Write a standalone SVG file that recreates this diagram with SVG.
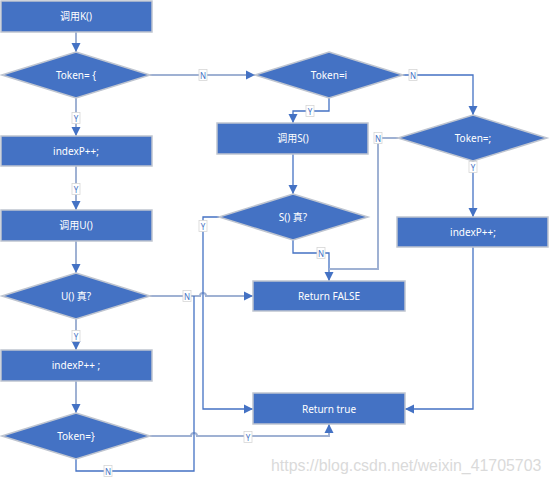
<svg xmlns="http://www.w3.org/2000/svg" width="551" height="484" viewBox="0 0 551 484">
<style>
.n{fill:#4472C4;stroke:#BFC5D0;stroke-width:1.5}
.t{fill:#fff;font-family:"Noto Sans","Noto Sans CJK SC",sans-serif;font-size:10px;text-anchor:middle;dominant-baseline:central}
.c{fill:none;stroke:#9FB1D3;stroke-width:2}
.cb{fill:none;stroke:#4472C4;stroke-width:1.3}
.lb rect{fill:#fff;stroke:#D6D6D6;stroke-width:0.8}
.lb text{fill:#4472C4;font-family:"Noto Sans",sans-serif;font-size:8px;text-anchor:middle;dominant-baseline:central}
.wm{fill:#DADADA;font-family:"Liberation Sans",Arial,sans-serif;font-size:15.9px}
</style>
<defs>
<marker id="ah" markerUnits="userSpaceOnUse" markerWidth="10" markerHeight="10" refX="9" refY="5" orient="auto">
<path d="M0,0.5 L9,5 L0,9.5 Z" fill="#4472C4"/>
</marker>
</defs>
<rect width="551" height="484" fill="#fff"/>
<g id="connectors">
<path class="c" d="M76 32 V52" marker-end="url(#ah)"/>
<path class="c" d="M150 75 H255" marker-end="url(#ah)"/>
<path class="c" d="M76 98 V136" marker-end="url(#ah)"/>
<path class="c" d="M76 166 V210" marker-end="url(#ah)"/>
<path class="c" d="M76 241 V273" marker-end="url(#ah)"/>
<path class="c" d="M150 296 H200 a3 3 0 0 1 6 0 H253" marker-end="url(#ah)"/>
<path class="c" d="M76 319 V350" marker-end="url(#ah)"/>
<path class="c" d="M76 381 V413" marker-end="url(#ah)"/>
<path class="c" d="M150 436 H191 a3 3 0 0 1 6 0 H329 V424" marker-end="url(#ah)"/>
<path class="cb" d="M76 459 V471 H194 V296"/>
<path class="cb" d="M403 75 H473 V115" marker-end="url(#ah)"/>
<path class="cb" d="M329 98 V111 H293 V123" marker-end="url(#ah)"/>
<path class="cb" d="M293 154 V194" marker-end="url(#ah)"/>
<path class="cb" d="M293 240 V253 H329 V281" marker-end="url(#ah)"/>
<path class="cb" d="M219 217 H203 V409 H253" marker-end="url(#ah)"/>
<path class="c" d="M398 138 H378 V269 H329"/>
<path class="cb" d="M473 161 V217" marker-end="url(#ah)"/>
<path class="cb" d="M473 247 V409 H405" marker-end="url(#ah)"/>
<g class="lb">
<rect x="199" y="69.5" width="8" height="11"/><text x="203" y="75">N</text>
<rect x="72" y="112.5" width="8" height="11"/><text x="76" y="118">Y</text>
<rect x="72" y="183.5" width="8" height="11"/><text x="76" y="189">Y</text>
<rect x="183" y="290.5" width="8" height="11"/><text x="187" y="296">N</text>
<rect x="72" y="330.5" width="8" height="11"/><text x="76" y="336">Y</text>
<rect x="244" y="431.5" width="8" height="11"/><text x="248" y="437">Y</text>
<rect x="104" y="465.5" width="8" height="11"/><text x="108" y="471">N</text>
<rect x="409" y="69.5" width="8" height="11"/><text x="413" y="75">N</text>
<rect x="306" y="105.5" width="8" height="11"/><text x="310" y="111">Y</text>
<rect x="317" y="247.5" width="8" height="11"/><text x="321" y="253">N</text>
<rect x="199" y="220.5" width="8" height="11"/><text x="203" y="226">Y</text>
<rect x="374" y="132.5" width="8" height="11"/><text x="378" y="138">N</text>
<rect x="469" y="161.5" width="8" height="11"/><text x="473" y="167">Y</text>
</g>
</g>
<g id="callK"><rect class="n" x="1" y="1" width="151" height="31"/><text class="t" x="76" y="16">调用K()</text></g>
<g id="tokenBrace"><polygon class="n" points="76,52 150,75 76,98 2,75"/><text class="t" x="76" y="75">Token= {</text></g>
<g id="indexP1"><rect class="n" x="1" y="136" width="151" height="30"/><text class="t" x="76" y="151">indexP++;</text></g>
<g id="callU"><rect class="n" x="1" y="210" width="151" height="31"/><text class="t" x="76" y="225">调用U()</text></g>
<g id="uTrue"><polygon class="n" points="76,273 150,296 76,319 2,296"/><text class="t" x="76" y="296">U() 真?</text></g>
<g id="indexP2"><rect class="n" x="1" y="350" width="151" height="31"/><text class="t" x="76" y="365">indexP++ ;</text></g>
<g id="tokenClose"><polygon class="n" points="76,413 150,436 76,459 2,436"/><text class="t" x="76" y="436">Token=}</text></g>
<g id="tokenI"><polygon class="n" points="329,52 403,75 329,98 255,75"/><text class="t" x="329" y="75">Token=i</text></g>
<g id="callS"><rect class="n" x="217" y="123" width="151" height="31"/><text class="t" x="293" y="138">调用S()</text></g>
<g id="sTrue"><polygon class="n" points="293,194 368,217 293,240 219,217"/><text class="t" x="293" y="217">S() 真?</text></g>
<g id="tokenSemi"><polygon class="n" points="473,115 547,138 473,161 398,138"/><text class="t" x="473" y="138">Token=;</text></g>
<g id="indexP3"><rect class="n" x="397" y="217" width="151" height="30"/><text class="t" x="473" y="232">indexP++;</text></g>
<g id="retFalse"><rect class="n" x="253" y="281" width="152" height="30"/><text class="t" x="329" y="296">Return FALSE</text></g>
<g id="retTrue"><rect class="n" x="253" y="393" width="152" height="31"/><text class="t" x="329" y="409">Return true</text></g>
<text class="wm" x="271" y="471">https://blog.csdn.net/weixin_41705703</text>
</svg>
